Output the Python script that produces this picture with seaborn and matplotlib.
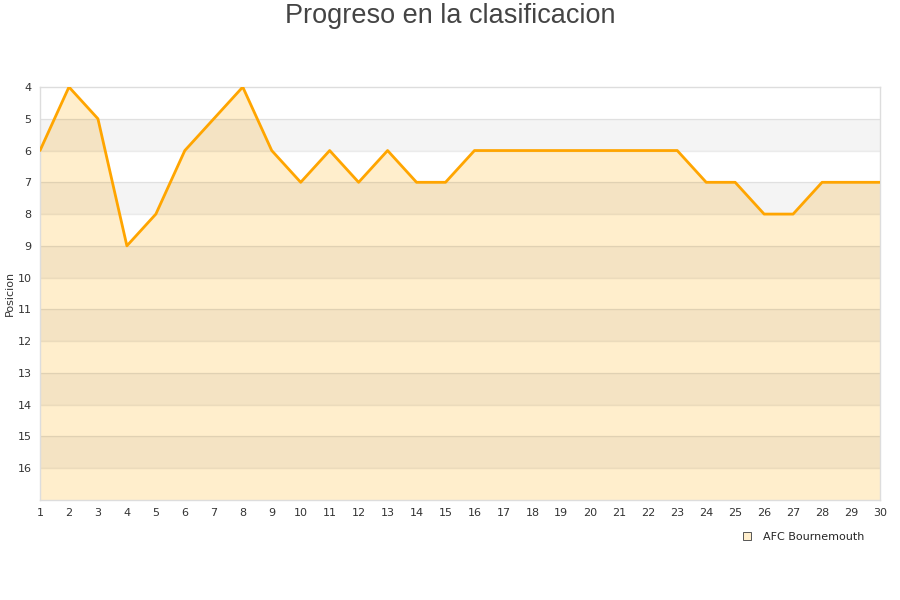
import numpy as np
import pandas as pd
import matplotlib.pyplot as plt
import seaborn as sns
from matplotlib.lines import Line2D

# datos
jornadas = list(range(1, 31))
posiciones = [6, 4, 5, 9, 8, 6, 5, 4, 6, 7, 6, 7, 6, 7, 7,
              6, 6, 6, 6, 6, 6, 6, 6, 7, 7, 8, 8, 7, 7, 7]
equipo = "AFC Bournemouth"
y_ticks = list(range(4, 17))

df = pd.DataFrame({"jornada": jornadas, "posicion": posiciones})

sns.set_style("white")
plt.rcParams['font.family'] = ['DejaVu Sans']

fig = plt.figure(figsize=(9, 6), dpi=100)
ax = fig.add_axes([40 / 900, 100 / 600, 840 / 900, 413 / 600])

# relleno bajo la linea
ax.fill_between(df["jornada"], df["posicion"], 17, color="#ffeecc", lw=0, zorder=1)

# bandas alternas (oscurecen lo que haya debajo)
for y0 in range(5, 17, 2):
    ax.axhspan(y0, y0 + 1, color="black", alpha=0.042, zorder=2, lw=0)
for y in range(5, 17):
    ax.axhline(y, color="black", alpha=0.08, lw=1, zorder=2)

sns.lineplot(data=df, x="jornada", y="posicion", color="#ffa500", lw=2.0, ax=ax, zorder=3)

ax.set_xlim(1, 30)
ax.set_ylim(17, 4)
ax.set_xticks(jornadas)
ax.set_yticks(y_ticks)
ax.tick_params(axis="both", labelsize=8, colors="#333333", length=0, pad=6)
ax.set_xlabel("")
ax.set_ylabel("Posicion", fontsize=8, color="#333333", labelpad=2)
for s in ax.spines.values():
    s.set_color("#dddddd")
    s.set_linewidth(1)

fig.suptitle("Progreso en la clasificacion", fontsize=19.5, color="#444444", y=0.995,
             family=["Liberation Sans", "DejaVu Sans"])

handle = Line2D([], [], marker="s", linestyle="none", markersize=6,
                markerfacecolor="#ffeecc", markeredgecolor="#555555", markeredgewidth=0.7)
fig.legend([handle], [equipo], loc="center", bbox_to_anchor=(800 / 900, 1 - 537 / 600),
           frameon=False, fontsize=8, handletextpad=0.4)

fig.savefig("out.png", dpi=100)
